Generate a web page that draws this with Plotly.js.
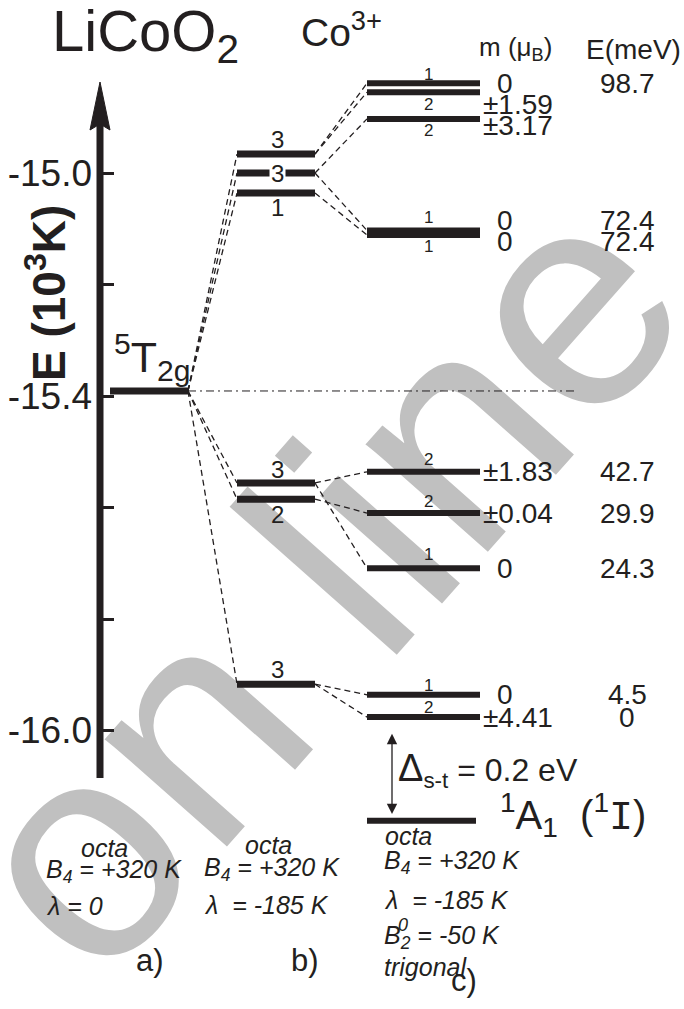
<!DOCTYPE html>
<html><head><meta charset="utf-8">
<script src="https://cdn.plot.ly/plotly-3.0.1.min.js"></script>
<style>html,body{margin:0;padding:0;background:#fff;}#chart{width:684px;height:1009px;}</style>
</head><body><div id="chart"></div>
<script>
// ---------------- data (energies in 10^3 K) ----------------
const tickValues = [-15.0, -15.4, -16.0];
const tickLabels = ['-15.0', '-15.4', '-16.0'];
const minorTickValues = [-15.2, -15.6, -15.8];

const levelA = [-15.391];                       // 5T2g  (octa, lambda = 0)
const levelB = [-14.966, -15.000, -15.036, -15.556, -15.585, -15.917];
const degB   = ['3', '3', '1', '3', '2', '3'];
const levelC = [-14.839, -14.855, -14.903, -15.103, -15.111, -15.536, -15.610, -15.709, -15.936, -15.976];
const degC   = ['1', '2', '2', '1', '1', '2', '2', '1', '1', '2'];
const momentC = ['0', '±1.59', '±3.17', '0', '0', '±1.83', '±0.04', '0', '0', '±4.41'];
const energyC = ['98.7', '', '', '72.4', '72.4', '42.7', '29.9', '24.3', '4.5', '0'];
const parentC = [0, 0, 1, 1, 2, 3, 4, 3, 5, 5];   // which b) level each c) level comes from
const levelSinglet = [-16.162];                  // 1A1 (1I)

// ---------------- style / layout ----------------
const W = 684, H = 1009;
const FONT = 'Liberation Sans, Arial, sans-serif';
const INK = '#231f20';
const yPix0 = 173, eAt0 = -15.0, pxPerUnit = 557.5;       // vertical scale of the drawing
const yTop = eAt0 + yPix0 / pxPerUnit;
const yBot = eAt0 - (H - yPix0) / pxPerUnit;
const E = p => eAt0 - (p - yPix0) / pxPerUnit;          // pixel row -> energy (for decorations)
const PX = x => x / W, PY = y => 1 - y / H;

const colA = [110, 188], colB = [237, 315], colC = [367, 480], colS = [367, 476];
const axisX = 100;
const degPosB = [-15, 0, 14, -13, 15, -15];            // px offset of degeneracy label (neg = above)
const degShiftC = [-9, 12, 12, -13, 12, -12, -12, -14, -9, -10];
const labShiftC = [0, 12, 7, -10, 7, 0, 0, 0, 0, 0];

const shapes = [];
const ann = [];

// axis line + arrow head
shapes.push({type: 'line', xref: 'x', yref: 'y', x0: axisX, x1: axisX, y0: E(778), y1: E(120), line: {color: INK, width: 7}});
shapes.push({type: 'path', xref: 'x', yref: 'y', path: `M ${axisX} ${E(82)} L ${axisX - 10} ${E(130)} L ${axisX} ${E(124)} L ${axisX + 10} ${E(130)} Z`, fillcolor: INK, line: {color: INK, width: 1}});

function level(col, e, w) {
  shapes.push({type: 'line', xref: 'x', yref: 'y', x0: col[0], x1: col[1], y0: e, y1: e, line: {color: INK, width: w}});
}
function conn(xa, ea, xb, eb) {
  shapes.push({type: 'line', xref: 'x', yref: 'y', x0: xa, x1: xb, y0: ea, y1: eb, line: {color: INK, width: 1.3, dash: '6px,4px'}});
}

// a)
levelA.forEach(e => level(colA, e, 7));
// dash-dot reference line
shapes.push({type: 'line', xref: 'x', yref: 'y', x0: colA[1], x1: 578, y0: levelA[0], y1: levelA[0], line: {color: INK, width: 1, dash: '8px,4px,2px,4px'}});
// b)
levelB.forEach((e, i) => {
  level(colB, e, 7);
  conn(colA[1], levelA[0], colB[0], e);
  ann.push({xref: 'x', yref: 'y', x: (colB[0] + colB[1]) / 2 + 1, y: e, text: degB[i], showarrow: false,
    yshift: -degPosB[i], font: {size: 24, family: FONT, color: INK},
    bgcolor: degPosB[i] === 0 ? 'white' : 'rgba(0,0,0,0)', borderpad: 1});
});
// c)
levelC.forEach((e, i) => {
  level(colC, e, 6);
  conn(colB[1], levelB[parentC[i]], colC[0], e);
  ann.push({xref: 'x', yref: 'y', x: 428, y: e, text: degC[i], showarrow: false, yshift: -degShiftC[i],
    font: {size: 17, family: FONT, color: INK}});
  const m = momentC[i];
  ann.push({xref: 'x', yref: 'y', x: m === '0' ? 505 : 481, xanchor: m === '0' ? 'center' : 'left', y: e,
    text: m, showarrow: false, yshift: -labShiftC[i], font: {size: 28, family: FONT, color: INK}});
  if (energyC[i]) ann.push({xref: 'x', yref: 'y', x: 627, y: e, text: energyC[i], showarrow: false,
    yshift: -labShiftC[i], font: {size: 28, family: FONT, color: INK}});
});
// singlet
levelSinglet.forEach(e => level(colS, e, 6));
ann.push({xref: 'x', yref: 'y', axref: 'x', ayref: 'y', x: 392, y: levelSinglet[0] + 0.012, ax: 392, ay: levelC[9] - 0.012,
  text: ' ', showarrow: true, arrowside: 'end+start', arrowhead: 2, arrowsize: 1.6, arrowwidth: 1.3, arrowcolor: INK});

// ---------------- texts ----------------
function t(x, y, text, size, opts) {
  ann.push(Object.assign({xref: 'paper', yref: 'paper', x: PX(x), y: PY(y), text: text, showarrow: false,
    xanchor: 'left', yanchor: 'middle', font: {size: size, family: FONT, color: INK}}, opts || {}));
}
t(299, 29, 'Co<sup>3+</sup>', 39);
t(46, 293, '<b>E (10<sup>3</sup>K)</b>', 46, {xanchor: 'center', textangle: -90});
t(112, 357, '<sup>5</sup>T<sub>2g</sub>', 43);
t(477, 48, 'm (μ<sub>B</sub>)', 26);
t(584, 49, 'E(meV)', 28);
t(396, 770, '<span style="font-size:38px">Δ</span><sub>s-t</sub> = 0.2 eV', 32);
t(498, 815, '<sup>1</sup>A<sub>1</sub>\u00a0\u00a0(<sup>1</sup><span style="font-family:Liberation Mono">I</span>)', 40);

const it = s => '<i>' + s + '</i>';
t(104, 848, it('octa'), 25, {xanchor: 'center'});
t(44, 871, it('B<sub>4</sub> = +320 K'), 25);
t(44, 906, it('λ = 0'), 25);
t(150, 960, 'a)', 31, {xanchor: 'center'});
t(268, 845, it('octa'), 25, {xanchor: 'center'});
t(202, 869, it('B<sub>4</sub> = +320 K'), 25);
t(202, 905, it('λ\u00a0 = -185 K'), 25);
t(305, 960, 'b)', 31, {xanchor: 'center'});
t(383, 836, it('octa'), 25);
t(382, 862, it('B<sub>4</sub> = +320 K'), 25);
t(382, 900, it('λ\u00a0 = -185 K'), 25);
t(382, 937, it('B<sub>2</sub>\u00a0= -50 K'), 25);
t(396, 925, it('0'), 18);
t(382, 967, it('trigonal'), 25);
t(464, 980, 'c)', 31, {xanchor: 'center'});

// watermark (drawn beneath everything)
const wmx = 400, wmy = 651;
const svg = `<svg xmlns="http://www.w3.org/2000/svg" width="${W}" height="${H}" viewBox="0 0 ${W} ${H}"><text x="${wmx}" y="${wmy}" font-family="Liberation Sans, Arial" font-size="308" fill="#c0c0c0" text-anchor="middle" transform="rotate(-48.5 ${wmx} ${wmy})">on line</text></svg>`;

const layout = {
  width: W, height: H,
  margin: {l: 0, r: 0, t: 0, b: 0},
  paper_bgcolor: 'white', plot_bgcolor: 'rgba(0,0,0,0)',
  showlegend: false,
  title: {text: 'LiCoO<sub>2</sub>', font: {size: 58, family: FONT, color: INK}, xref: 'paper', yref: 'paper',
    x: PX(52), xanchor: 'left', y: PY(31), yanchor: 'middle'},
  xaxis: {range: [0, W], visible: false, fixedrange: true},
  yaxis: {range: [yBot, yTop], anchor: 'free', position: axisX / W, side: 'left',
    tickmode: 'array', tickvals: tickValues, ticktext: tickLabels,
    ticks: 'inside', ticklen: 13, tickwidth: 3, tickcolor: INK, ticklabelstandoff: 8,
    minor: {tickmode: 'array', tickvals: minorTickValues, ticks: 'inside', ticklen: 13, tickwidth: 3, tickcolor: INK, showgrid: false},
    showline: false, showgrid: false, zeroline: false, fixedrange: true,
    tickfont: {size: 37, family: FONT, color: INK}},
  shapes: shapes,
  annotations: ann,
  images: [{source: 'data:image/svg+xml;charset=utf-8,' + encodeURIComponent(svg), xref: 'paper', yref: 'paper',
    x: 0, y: 1, sizex: 1, sizey: 1, xanchor: 'left', yanchor: 'top', sizing: 'stretch', layer: 'below'}]
};

Plotly.newPlot('chart', [{type: 'scatter', x: [], y: [], mode: 'markers'}], layout, {displayModeBar: false, staticPlot: true});
</script></body></html>
